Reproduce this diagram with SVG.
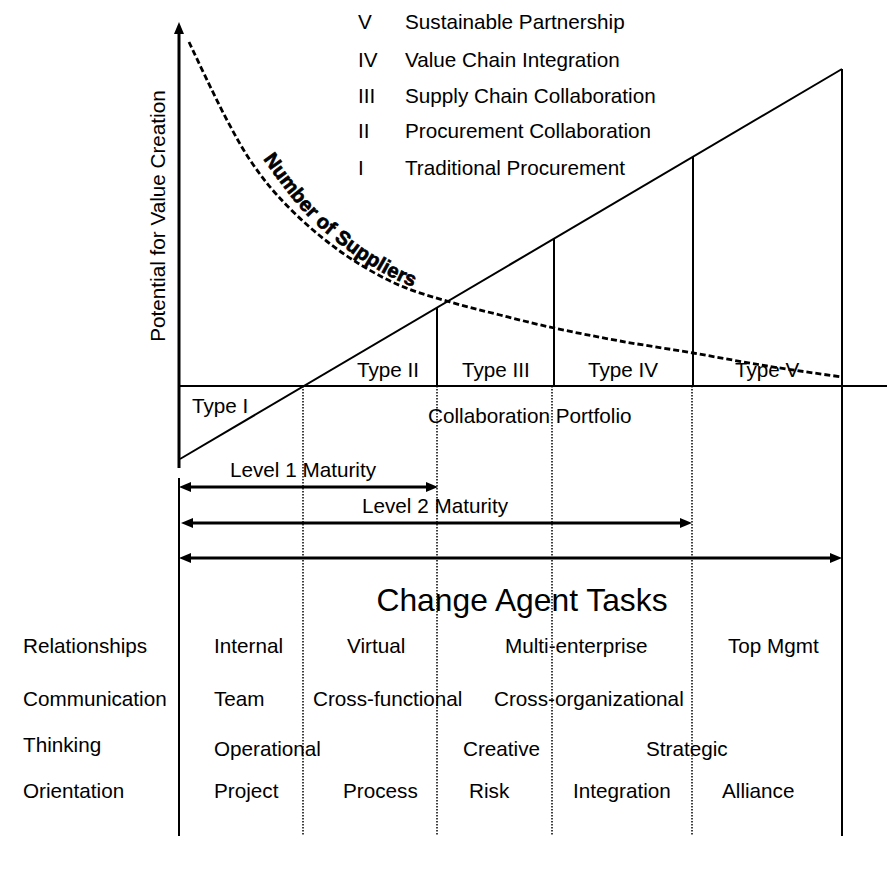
<svg xmlns="http://www.w3.org/2000/svg" width="887" height="870" viewBox="0 0 887 870">
  <style>
    text { font-family: "Liberation Sans", Arial, sans-serif; font-size: 20.7px; fill: #000; }
    .big { font-size: 31.8px; }
    .thick { stroke: #000; stroke-width: 3; fill: none; }
    .solid { stroke: #000; stroke-width: 2; fill: none; }
    .dotted { stroke: #000; stroke-width: 1.5; stroke-dasharray: 1.5 1.5; fill: none; }
    .curve { stroke: #000; stroke-width: 2.8; stroke-dasharray: 6 3; fill: none; }
    .curve-label { font-weight: bold; font-size: 20px; letter-spacing: 0.2px; stroke: #000; stroke-width: 0.7; }
  </style>
  <defs>
    <marker id="axisHead" viewBox="0 0 12 10" refX="4" refY="5" markerWidth="12" markerHeight="10" markerUnits="userSpaceOnUse" orient="auto">
      <path d="M0,0 L12,5 L0,10 Z" fill="#000"/>
    </marker>
    <marker id="spanHead" viewBox="0 0 12 10" refX="4" refY="5" markerWidth="12" markerHeight="10" markerUnits="userSpaceOnUse" orient="auto-start-reverse">
      <path d="M0,0 L12,5 L0,10 Z" fill="#000"/>
    </marker>
    <path id="supplierTextPath" d="M263,159 C281,184 298,208 318,226 C340,246 368,266 395,279 C407,285 418,289 432,293"/>
  </defs>

  <rect width="887" height="870" fill="#fff"/>

  <!-- value axis and portfolio frame -->
  <g id="axes">
    <line class="thick" x1="179" y1="468" x2="179" y2="30" marker-end="url(#axisHead)"/>
    <text transform="translate(165,216) rotate(-90)" text-anchor="middle">Potential for Value Creation</text>
    <line class="solid" x1="179" y1="386" x2="887" y2="386"/>
    <line class="solid" x1="179" y1="478" x2="179" y2="836"/>
    <line class="solid" x1="842" y1="69" x2="842" y2="836"/>
  </g>

  <!-- legend of collaboration types -->
  <g id="legend">
    <text x="358" y="29">V</text><text x="405" y="29">Sustainable Partnership</text>
    <text x="358" y="67">IV</text><text x="405" y="67">Value Chain Integration</text>
    <text x="358" y="103">III</text><text x="405" y="103">Supply Chain Collaboration</text>
    <text x="358" y="138">II</text><text x="405" y="138">Procurement Collaboration</text>
    <text x="358" y="175">I</text><text x="405" y="175">Traditional Procurement</text>
  </g>

  <!-- portfolio wedge with type boundaries -->
  <g id="portfolio">
    <line class="solid" x1="180" y1="459" x2="842" y2="69"/>
    <line class="solid" x1="437" y1="308" x2="437" y2="386"/>
    <line class="solid" x1="554" y1="239" x2="554" y2="386"/>
    <line class="solid" x1="693" y1="157" x2="693" y2="386"/>
    <text x="192" y="413">Type I</text>
    <text x="357" y="377">Type II</text>
    <text x="462" y="377">Type III</text>
    <text x="588" y="377">Type IV</text>
    <text x="735" y="377">Type V</text>
    <text x="428" y="423">Collaboration Portfolio</text>
  </g>

  <!-- supplier count curve -->
  <g id="suppliers">
    <path class="curve" d="M189,42 C192.2,48.7 201.5,68.7 208,82 C214.5,95.3 221,109 228,122 C235,135 241.8,147.8 250,160 C258.2,172.2 266.5,183.3 277,195 C287.5,206.7 300.3,219.2 313,230 C325.7,240.8 338.5,250.8 353,260 C367.5,269.3 383.8,278.5 400,285.5 C416.2,292.5 433.3,297.1 450,302 C466.7,306.9 482.7,310.7 500,315 C517.3,319.3 534,323.7 554,328 C574,332.3 596.8,336.8 620,341 C643.2,345.2 668.5,348.8 693,353 C717.5,357.2 742.2,362 767,366 C791.8,370 829.5,375.2 842,377"/>
    <text class="curve-label"><textPath href="#supplierTextPath">Number of Suppliers</textPath></text>
  </g>

  <!-- column separators -->
  <g id="columns">
    <line class="dotted" x1="303" y1="386" x2="303" y2="836"/>
    <line class="dotted" x1="437" y1="386" x2="437" y2="836"/>
    <line class="dotted" x1="552" y1="386" x2="552" y2="836"/>
    <line class="dotted" x1="692" y1="386" x2="692" y2="836"/>
  </g>

  <!-- maturity spans -->
  <g id="connectors">
    <line class="thick" x1="187" y1="487" x2="430" y2="487" marker-start="url(#spanHead)" marker-end="url(#spanHead)"/>
    <line class="thick" x1="189" y1="523" x2="684" y2="523" marker-start="url(#spanHead)" marker-end="url(#spanHead)"/>
    <line class="thick" x1="187" y1="558" x2="834" y2="558" marker-start="url(#spanHead)" marker-end="url(#spanHead)"/>
  </g>
  <g id="maturity">
    <text x="230" y="477">Level 1 Maturity</text>
    <text x="362" y="513">Level 2 Maturity</text>
  </g>

  <!-- change agent task table -->
  <g id="tasks">
    <text class="big" x="522" y="611" text-anchor="middle">Change Agent Tasks</text>
    <text x="23" y="653">Relationships</text>
    <text x="23" y="706">Communication</text>
    <text x="23" y="752">Thinking</text>
    <text x="23" y="798">Orientation</text>

    <text x="214" y="653">Internal</text>
    <text x="347" y="653">Virtual</text>
    <text x="505" y="653">Multi-enterprise</text>
    <text x="728" y="653">Top Mgmt</text>

    <text x="214" y="706">Team</text>
    <text x="313" y="706">Cross-functional</text>
    <text x="494" y="706">Cross-organizational</text>

    <text x="214" y="756">Operational</text>
    <text x="463" y="756">Creative</text>
    <text x="646" y="756">Strategic</text>

    <text x="214" y="798">Project</text>
    <text x="343" y="798">Process</text>
    <text x="469" y="798">Risk</text>
    <text x="573" y="798">Integration</text>
    <text x="722" y="798">Alliance</text>
  </g>
</svg>
